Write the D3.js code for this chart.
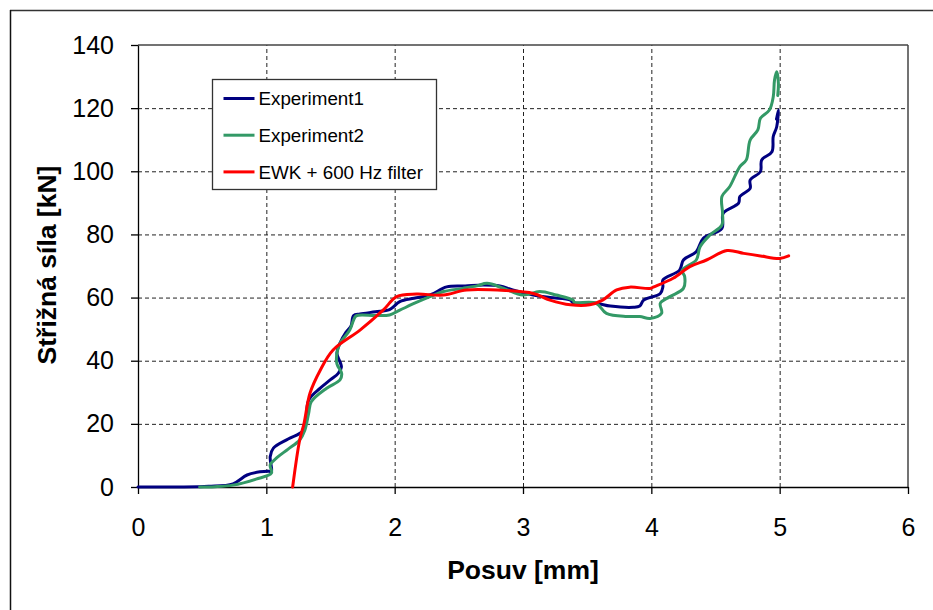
<!DOCTYPE html>
<html>
<head>
<meta charset="utf-8">
<script src="https://cdn.jsdelivr.net/npm/d3@7"></script>
<style>
  body { margin: 0; background: #fff; }
</style>
</head>
<body>
<div id="chart"></div>
<script>
// values: [posuv mm, sila kN]
var exp1 = [
  [0, 0], [0.3, 0], [0.55, 0.2], [0.74, 1], [0.85, 3.8], [0.95, 4.8], [1.02, 5], [1.04, 4.9],
  [1.03, 9.6], [1.055, 12.3], [1.17, 15.2], [1.29, 18], [1.33, 27.5], [1.42, 31.3], [1.5, 34],
  [1.56, 36], [1.585, 38], [1.55, 42.4], [1.574, 45.6], [1.62, 49], [1.66, 51], [1.68, 54.3],
  [1.73, 54.8], [1.85, 55.5], [1.96, 56.2], [2.04, 58.7], [2.15, 59.8], [2.275, 60.8],
  [2.405, 63.4], [2.55, 63.7], [2.69, 64], [2.82, 63.7], [2.92, 62.4], [3.08, 60.8],
  [3.21, 60], [3.37, 59.2], [3.39, 58.4], [3.57, 58.2], [3.68, 57.3], [3.86, 56.9],
  [3.91, 57.3], [3.94, 59.2], [4.07, 61.3], [4.09, 63.4], [4.09, 65.6], [4.22, 68.7],
  [4.25, 71.9], [4.35, 74.5], [4.405, 78.8], [4.55, 81.9], [4.56, 86.7], [4.68, 89.9],
  [4.69, 92], [4.77, 94.6], [4.77, 97.2], [4.85, 99.9], [4.86, 103.6], [4.94, 106.2],
  [4.95, 111], [4.977, 114.1], [4.99, 119.4], [4.975, 116.5]
];
var exp2 = [
  [0.48, 0], [0.6, 0.1], [0.74, 0.6], [0.92, 2.5], [1.04, 4.4], [1.03, 7], [1.08, 9.2],
  [1.17, 12], [1.26, 14.9], [1.3, 18], [1.33, 23.4], [1.35, 27], [1.47, 31.3], [1.574, 33.9],
  [1.587, 36], [1.55, 39], [1.55, 42.4], [1.574, 45.5], [1.65, 49.7], [1.68, 52.9],
  [1.7, 54.2], [1.85, 54.3], [1.96, 54.5], [2.04, 56], [2.16, 58.3], [2.275, 60.3],
  [2.38, 61.9], [2.53, 62.9], [2.64, 63.7], [2.72, 64.5], [2.85, 62.9], [3.0, 60.8],
  [3.13, 61.9], [3.26, 60.8], [3.39, 59.2], [3.4, 58.5], [3.57, 58.2], [3.65, 55],
  [3.81, 54], [3.91, 54], [3.99, 53.4], [4.08, 55], [4.07, 58.2], [4.145, 60.3],
  [4.25, 62.9], [4.26, 66.6], [4.24, 68.7], [4.35, 71.9], [4.38, 76.1], [4.457, 79.8],
  [4.55, 83], [4.555, 86.7], [4.55, 92], [4.61, 95.1], [4.69, 101.5], [4.74, 103.6],
  [4.77, 109.9], [4.83, 113.1], [4.85, 116.8], [4.92, 119.4], [4.95, 123.6], [4.96, 128.9],
  [4.977, 131.5], [4.99, 127.9], [4.985, 124]
];
var ewk = [
  [1.205, 0], [1.26, 14.9], [1.294, 20.2], [1.34, 29.7], [1.42, 37], [1.52, 43.4],
  [1.73, 49.7], [1.91, 56], [2.016, 60.3], [2.17, 61.1], [2.38, 60.8], [2.56, 62.4],
  [2.87, 62.2], [3.08, 61.3], [3.21, 59.2], [3.37, 57.7], [3.52, 57.7], [3.62, 59.2],
  [3.73, 62.4], [3.83, 63.3], [3.99, 62.9], [4.02, 63.4], [4.17, 66.1], [4.3, 69.8],
  [4.43, 71.9], [4.59, 74.9], [4.72, 74], [4.85, 73.2], [5.0, 72.4], [5.07, 73.2]
];
var seriesNames = ["Experiment1", "Experiment2", "EWK + 600 Hz filter"];
var seriesColors = ["#000080", "#339966", "#ff0000"];
var xTicks = [0, 1, 2, 3, 4, 5, 6];
var yTicks = [0, 20, 40, 60, 80, 100, 120, 140];

var width = 933;
var height = 610;
var plotLeft = 138, plotRight = 908, plotTop = 45, plotBottom = 487;
var font = "Arial, 'Liberation Sans', sans-serif";

var svg = d3.select("#chart")
  .append("svg")
  .attr("width", width)
  .attr("height", height);

// outer frame (only top and left visible)
svg.append("line").attr("x1", 10).attr("x2", width).attr("y1", 10.5).attr("y2", 10.5)
  .style("stroke", "#333").style("stroke-width", 1.5);
svg.append("line").attr("x1", 10.5).attr("x2", 10.5).attr("y1", 10).attr("y2", height)
  .style("stroke", "#111").style("stroke-width", 1.5);

var x_scale = d3.scaleLinear().domain([0, 6]).range([plotLeft, plotRight]);
var y_scale = d3.scaleLinear().domain([0, 140]).range([plotBottom, plotTop]);

// gridlines
svg.append("g").attr("class", "x gridlines")
  .attr("transform", "translate(0," + plotBottom + ")")
  .call(d3.axisBottom(x_scale).tickValues(xTicks.slice(1, -1)).tickSize(-(plotBottom - plotTop)).tickFormat(""))
  .call(g => g.select(".domain").remove())
  .selectAll("line")
  .style("stroke", "#222")
  .style("stroke-dasharray", "4,3");

svg.append("g").attr("class", "y gridlines")
  .attr("transform", "translate(" + plotLeft + ",0)")
  .call(d3.axisLeft(y_scale).tickValues(yTicks.slice(1, -1)).tickSize(-(plotRight - plotLeft)).tickFormat(""))
  .call(g => g.select(".domain").remove())
  .selectAll("line")
  .style("stroke", "#222")
  .style("stroke-dasharray", "4,3");

// top and right frame
svg.append("line").attr("x1", plotLeft).attr("x2", plotRight).attr("y1", plotTop).attr("y2", plotTop)
  .style("stroke", "#444").style("stroke-width", 1.5);
svg.append("line").attr("x1", plotRight).attr("x2", plotRight).attr("y1", plotTop).attr("y2", plotBottom)
  .style("stroke", "#444").style("stroke-width", 1.5);

// axes
var x_axis = d3.axisBottom(x_scale).tickValues(xTicks).tickFormat(d3.format("d"))
  .tickSize(7).tickPadding(24).tickSizeOuter(0);
svg.append("g").attr("class", "x axis")
  .attr("transform", "translate(0," + plotBottom + ")")
  .call(x_axis)
  .call(g => g.selectAll("text").style("font-family", font).style("font-size", "25px").style("fill", "#000"))
  .call(g => g.selectAll("line, path").style("stroke", "#000").style("stroke-width", 1.3));

var y_axis = d3.axisLeft(y_scale).tickValues(yTicks).tickFormat(d3.format("d"))
  .tickSize(7).tickPadding(17).tickSizeOuter(0);
svg.append("g").attr("class", "y axis")
  .attr("transform", "translate(" + plotLeft + ",0)")
  .call(y_axis)
  .call(g => g.selectAll("text").style("font-family", font).style("font-size", "25px").style("fill", "#000"))
  .call(g => g.selectAll("line, path").style("stroke", "#000").style("stroke-width", 1.3));

// series
var line = d3.line()
  .x(d => x_scale(d[0]))
  .y(d => y_scale(d[1]))
  .curve(d3.curveCatmullRom.alpha(0.5));

[exp1, exp2, ewk].forEach(function(data, i) {
  svg.append("path")
    .datum(data)
    .attr("d", line)
    .style("fill", "none")
    .style("stroke", seriesColors[i])
    .style("stroke-width", 3)
    .style("stroke-linejoin", "round")
    .style("stroke-linecap", "round");
});

// legend
var key = svg.append("g").attr("transform", "translate(212.5,79.5)");
key.append("rect")
  .attr("width", 224).attr("height", 110)
  .style("fill", "#fff").style("stroke", "#333").style("stroke-width", 1.3);
seriesNames.forEach(function(name, i) {
  var yy = 19 + i * 36.7;
  key.append("line")
    .attr("x1", 11).attr("x2", 42).attr("y1", yy).attr("y2", yy)
    .style("stroke", seriesColors[i]).style("stroke-width", 3);
  key.append("text")
    .attr("x", 46).attr("y", yy + 6.7)
    .style("font-family", font)
    .style("font-size", "18.8px")
    .text(name);
});

// axis titles
svg.append("text")
  .attr("x", 523).attr("y", 579)
  .style("text-anchor", "middle")
  .style("font-family", font)
  .style("font-size", "26.5px")
  .style("font-weight", "bold")
  .text("Posuv [mm]");

svg.append("text")
  .attr("transform", "translate(56,265) rotate(-90)")
  .style("text-anchor", "middle")
  .style("font-family", font)
  .style("font-size", "26.5px")
  .style("font-weight", "bold")
  .text("Střižná síla [kN]");
</script>
</body>
</html>
